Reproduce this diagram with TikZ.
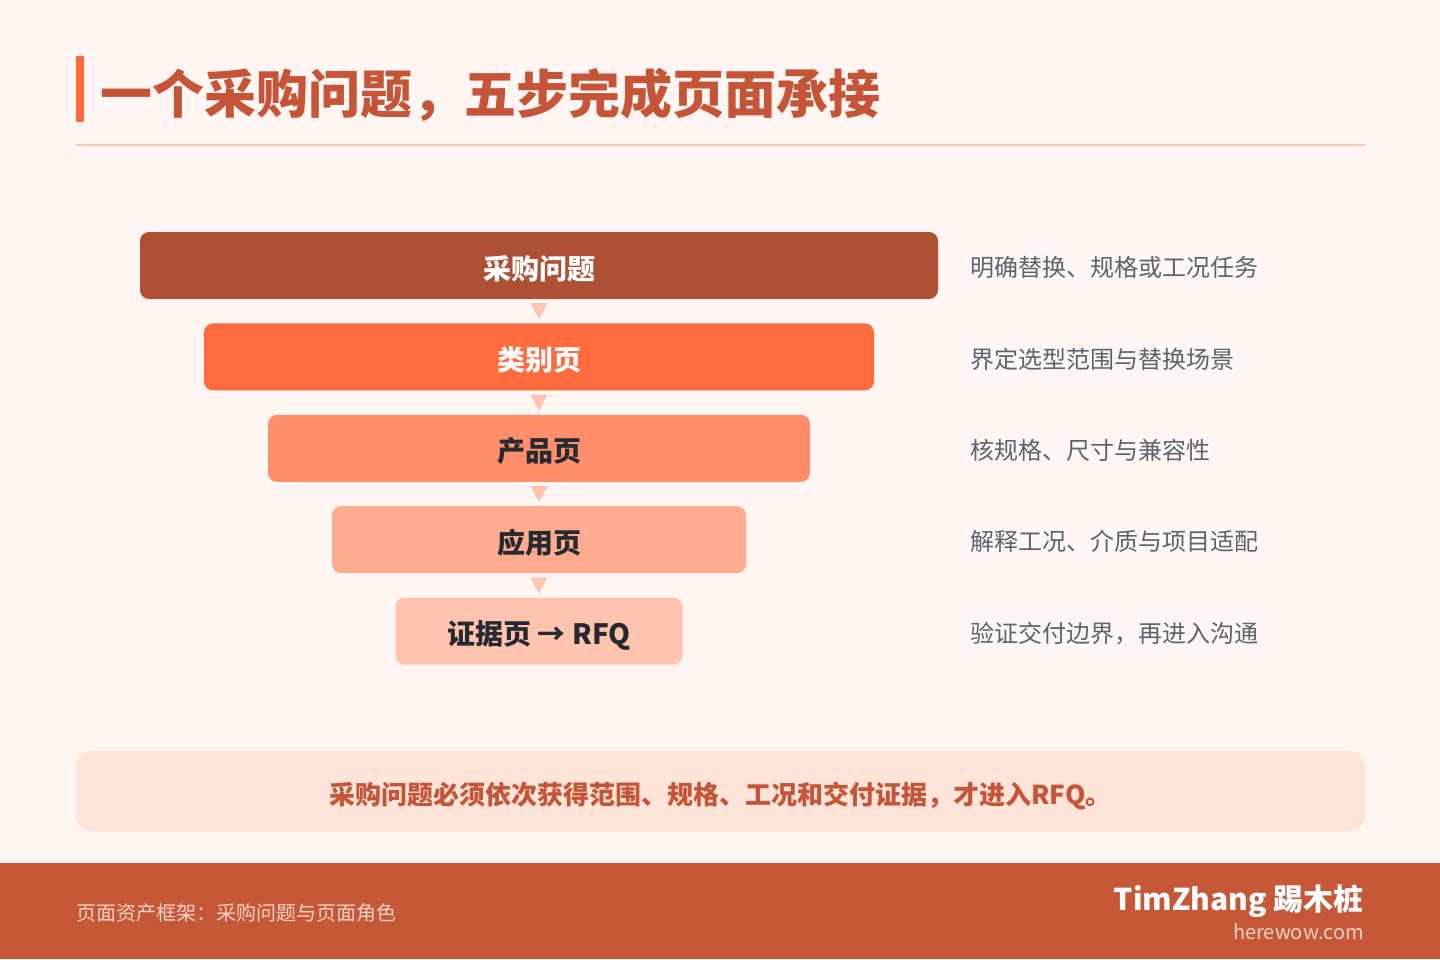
\documentclass[tikz,border=0pt]{standalone}
\usepackage{fontspec}
\setmainfont{Noto Sans CJK SC}
\usetikzlibrary{positioning}

\definecolor{pagebg}{HTML}{FFF6F3}
\definecolor{titlered}{HTML}{C65436}
\definecolor{accent}{HTML}{FF6B3D}
\definecolor{rulepink}{HTML}{FAC6B3}
\definecolor{stageA}{HTML}{AD5034}
\definecolor{stageB}{HTML}{FF6B3D}
\definecolor{stageC}{HTML}{FF8F6B}
\definecolor{stageD}{HTML}{FFAB8F}
\definecolor{stageE}{HTML}{FFC4B0}
\definecolor{inkdark}{HTML}{262A30}
\definecolor{notegray}{HTML}{5B6470}
\definecolor{msgfill}{HTML}{FFE4DA}
\definecolor{footfill}{HTML}{C65737}
\definecolor{foottext}{HTML}{F9D3C5}

\tikzset{
  stage/.style={rounded corners=9pt,minimum height=67pt,inner sep=0pt,
    text height=30pt,text depth=3pt,
    font=\fontsize{28}{32}\selectfont\bfseries},
  note/.style={anchor=west,inner sep=0pt,yshift=-2pt,text=notegray,
    font=\fontsize{24}{28}\selectfont},
  tri/.style={fill=stageE}
}

\begin{document}
\begin{tikzpicture}[x=1pt,y=-1pt]
    \useasboundingbox[fill=pagebg] (0,0) rectangle (1440,959);

    % title
    \fill[accent] (76,56) rectangle (84,122);
    \node[anchor=west,inner sep=0pt,text=titlered,font=\fontsize{52}{60}\selectfont\bfseries]
      (title) at (100,95) {一个采购问题，五步完成页面承接};
    \draw[rulepink,line width=2pt] (76,145)--(1365,145);

    % funnel
    \node[stage,fill=stageA,text=white,minimum width=798pt] (b1) at (539,265.5) {采购问题};
    \node[stage,fill=stageB,text=white,minimum width=670pt,below=24pt of b1] (b2) {类别页};
    \node[stage,fill=stageC,text=inkdark,minimum width=542pt,below=24pt of b2] (b3) {产品页};
    \node[stage,fill=stageD,text=inkdark,minimum width=414pt,below=24pt of b3] (b4) {应用页};
    \node[stage,fill=stageE,text=inkdark,minimum width=287pt,below=24pt of b4] (b5) {证据页 → RFQ};

    \fill[tri] ([xshift=-8.5pt,yshift=-4pt]b1.south)--([xshift=8.5pt,yshift=-4pt]b1.south)--([yshift=-20pt]b1.south)--cycle;
    \fill[tri] ([xshift=-8.5pt,yshift=-4pt]b2.south)--([xshift=8.5pt,yshift=-4pt]b2.south)--([yshift=-20pt]b2.south)--cycle;
    \fill[tri] ([xshift=-8.5pt,yshift=-4pt]b3.south)--([xshift=8.5pt,yshift=-4pt]b3.south)--([yshift=-20pt]b3.south)--cycle;
    \fill[tri] ([xshift=-8.5pt,yshift=-4pt]b4.south)--([xshift=8.5pt,yshift=-4pt]b4.south)--([yshift=-20pt]b4.south)--cycle;

    % notes
    \coordinate (nx) at (970,0);
    \node[note] (n1) at (nx |- b1) {明确替换、规格或工况任务};
    \node[note] (n2) at (nx |- b2) {界定选型范围与替换场景};
    \node[note] (n3) at (nx |- b3) {核规格、尺寸与兼容性};
    \node[note] (n4) at (nx |- b4) {解释工况、介质与项目适配};
    \node[note] (n5) at (nx |- b5) {验证交付边界，再进入沟通};

    % summary
    \node[rounded corners=16pt,fill=msgfill,minimum width=1289pt,minimum height=80pt,inner sep=0pt,
      text height=30pt,text depth=2.5pt,
      text=titlered,font=\fontsize{26}{30}\selectfont\bfseries]
      (msg) at (720.5,791) {采购问题必须依次获得范围、规格、工况和交付证据，才进入RFQ。};

    % footer
    \fill[footfill] (0,863) rectangle (1440,959);
    \node[anchor=west,inner sep=0pt,text=foottext,font=\fontsize{20}{24}\selectfont]
      (foot) at (76,913) {页面资产框架：采购问题与页面角色};
    \node[anchor=east,inner sep=0pt,text=white,font=\fontsize{30}{34}\selectfont\bfseries]
      (brand) at (1364,901) {TimZhang 踢木桩};
    \node[anchor=east,inner sep=0pt,text=foottext,font=\fontsize{20}{24}\selectfont]
      (site) at (1364,932) {herewow.com};
  \end{tikzpicture}
\end{document}
